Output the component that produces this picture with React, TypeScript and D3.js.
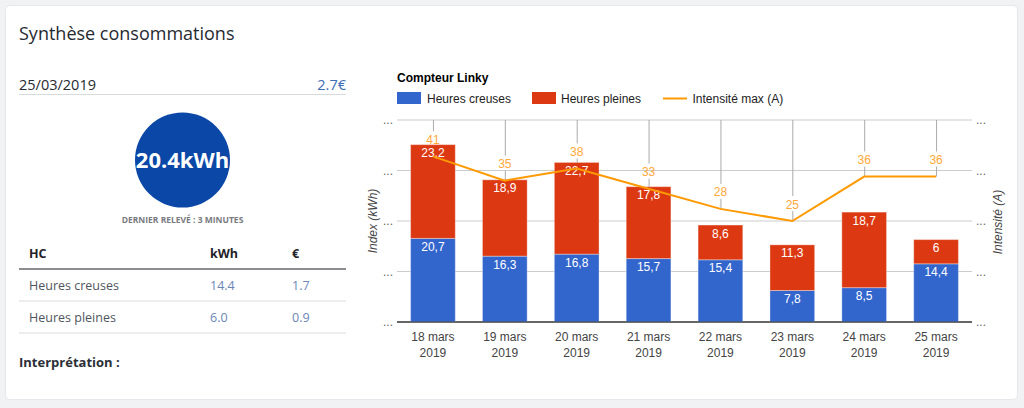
import React from "react";
import * as d3 from "d3";

const dayLabels = ["18 mars", "19 mars", "20 mars", "21 mars", "22 mars", "23 mars", "24 mars", "25 mars"];
const yearLabels = ["2019", "2019", "2019", "2019", "2019", "2019", "2019", "2019"];
const heuresCreuses = [20.7, 16.3, 16.8, 15.7, 15.4, 7.8, 8.5, 14.4];
const heuresPleines = [23.2, 18.9, 22.7, 17.8, 8.6, 11.3, 18.7, 6];
const intensiteMax = [41, 35, 38, 33, 28, 25, 36, 36];
const yTicks = [0, 12.5, 25, 37.5, 50];

const BLUE = "#3366cc";
const RED = "#dc3912";
const ORANGE = "#ff9900";
const CHART_FONT = "Arial, 'Liberation Sans', sans-serif";
const PANEL_FONT = "'Open Sans', 'Noto Sans', sans-serif";

const fmt = (v: number) => String(v).replace(".", ",");

export default function App() {
  const W = 1024, H = 408;
  const plot = { left: 397, right: 972, top: 120, bottom: 322 };
  const x = d3.scaleBand<string>()
    .domain(dayLabels)
    .range([plot.left, plot.right])
    .paddingInner(0.378)
    .paddingOuter(0.189);
  const yL = d3.scaleLinear().domain([0, 50]).range([plot.bottom, plot.top]);
  const yR = d3.scaleLinear().domain([0, 50]).range([plot.bottom, plot.top]);
  const cx = (i: number) => (x(dayLabels[i]) as number) + x.bandwidth() / 2;

  const line = d3.line<number>()
    .x((_, i) => cx(i))
    .y((d) => yR(d));

  return (
    <svg width={W} height={H} style={{ position: "absolute", left: 0, top: 0 }}>
      <rect x={0} y={0} width={W} height={H} fill="#f1f2f4" />
      <rect x={5.5} y={5.5} width={1012} height={394} rx={4} fill="#ffffff" stroke="#e6e7ea" />

      {/* Left panel */}
      <text x={19} y={40} fontFamily={PANEL_FONT} fontSize={18} fill="#262a31">Synthèse consommations</text>
      <text x={19} y={90} fontFamily={PANEL_FONT} fontSize={14.5} fill="#262a31">25/03/2019</text>
      <text x={346} y={90} textAnchor="end" fontFamily={PANEL_FONT} fontSize={14.5} fill="#3d6db5">2.7€</text>
      <line x1={19} x2={346} y1={94.5} y2={94.5} stroke="#d9dadd" strokeWidth={1} />

      <circle cx={182.5} cy={160} r={47.5} fill="#0a47a6" />
      <text x={182.5} y={168} textAnchor="middle" fontFamily={PANEL_FONT} fontWeight="bold" fontSize={22} fill="#ffffff">20.4kWh</text>
      <text x={182.5} y={223} textAnchor="middle" fontFamily={PANEL_FONT} fontWeight="bold" fontSize={8.5} fill="#777a80">DERNIER RELEVÉ : 3 MINUTES</text>

      <text x={29} y={258} fontFamily={PANEL_FONT} fontWeight="bold" fontSize={12.5} fill="#1f2329">HC</text>
      <text x={210} y={258} fontFamily={PANEL_FONT} fontWeight="bold" fontSize={12.5} fill="#1f2329">kWh</text>
      <text x={292} y={258} fontFamily={PANEL_FONT} fontWeight="bold" fontSize={12.5} fill="#1f2329">€</text>
      <line x1={19} x2={346} y1={269} y2={269} stroke="#8c8d90" strokeWidth={2} />
      <text x={29} y={290} fontFamily={PANEL_FONT} fontSize={12.5} fill="#4f555d">Heures creuses</text>
      <text x={210} y={290} fontFamily={PANEL_FONT} fontSize={12.5} fill="#6a86b6">14.4</text>
      <text x={292} y={290} fontFamily={PANEL_FONT} fontSize={12.5} fill="#6a86b6">1.7</text>
      <line x1={19} x2={346} y1={301} y2={301} stroke="#e7e8ea" strokeWidth={1.5} />
      <text x={29} y={322} fontFamily={PANEL_FONT} fontSize={12.5} fill="#4f555d">Heures pleines</text>
      <text x={210} y={322} fontFamily={PANEL_FONT} fontSize={12.5} fill="#6a86b6">6.0</text>
      <text x={292} y={322} fontFamily={PANEL_FONT} fontSize={12.5} fill="#6a86b6">0.9</text>
      <line x1={19} x2={346} y1={333} y2={333} stroke="#e7e8ea" strokeWidth={1.5} />
      <text x={19} y={367} fontFamily={PANEL_FONT} fontWeight="bold" fontSize={13} fill="#2b2f36">Interprétation :</text>

      {/* Chart title & legend */}
      <g fontFamily={CHART_FONT} fontSize={12}>
        <text x={397} y={82} fontWeight="bold" fill="#000">Compteur Linky</text>
        <rect x={397} y={92} width={24} height={12} fill={BLUE} />
        <text x={427} y={102.5} fill="#222">Heures creuses</text>
        <rect x={532} y={92} width={24} height={12} fill={RED} />
        <text x={561} y={102.5} fill="#222">Heures pleines</text>
        <line x1={663} x2={687} y1={98.5} y2={98.5} stroke={ORANGE} strokeWidth={2} />
        <text x={692.5} y={102.5} fill="#222">Intensité max (A)</text>
      </g>

      {/* Gridlines */}
      {yTicks.map((t, i) => (
        <line key={"g" + i} x1={plot.left} x2={plot.right} y1={yL(t)} y2={yL(t)}
          stroke={t === 0 ? "#333" : "#cccccc"} strokeWidth={1} />
      ))}
      {yTicks.map((t, i) => (
        <text key={"ll" + i} x={393} y={yL(t) + 4} textAnchor="end" fontFamily={CHART_FONT} fontSize={12} fill="#666">...</text>
      ))}
      {yTicks.map((t, i) => (
        <text key={"rl" + i} x={976} y={yR(t) + 4} fontFamily={CHART_FONT} fontSize={12} fill="#666">...</text>
      ))}

      {/* Annotation stems for intensity */}
      {intensiteMax.map((v, i) => {
        const py = yR(v);
        const ly = py - 17;
        return (
          <g key={"s" + i} stroke="#aaaaaa" strokeWidth={1}>
            <line x1={cx(i) + 0.5} x2={cx(i) + 0.5} y1={plot.top} y2={ly - 8} />
            <line x1={cx(i) + 0.5} x2={cx(i) + 0.5} y1={ly + 7} y2={py} />
          </g>
        );
      })}

      {/* Bars */}
      {dayLabels.map((d, i) => {
        const x0 = x(d) as number;
        const bw = x.bandwidth();
        const hcTop = yL(heuresCreuses[i]);
        const hpTop = yL(heuresCreuses[i] + heuresPleines[i]);
        return (
          <g key={"b" + i}>
            <rect x={x0} y={hcTop} width={bw} height={plot.bottom - hcTop} fill={BLUE} stroke="#ffffff" strokeOpacity={0.35} strokeWidth={1} />
            <rect x={x0} y={hpTop} width={bw} height={hcTop - hpTop} fill={RED} stroke="#ffffff" strokeOpacity={0.35} strokeWidth={1} />
            <text x={x0 + bw / 2} y={hcTop + 12.5} textAnchor="middle" fontFamily={CHART_FONT} fontSize={12} fill="#ffffff">{fmt(heuresCreuses[i])}</text>
            <text x={x0 + bw / 2} y={hpTop + 12.5} textAnchor="middle" fontFamily={CHART_FONT} fontSize={12} fill="#ffffff">{fmt(heuresPleines[i])}</text>
          </g>
        );
      })}
      <line x1={plot.left} x2={plot.right} y1={plot.bottom} y2={plot.bottom} stroke="#333" strokeWidth={1} />

      {/* Intensity line */}
      <path d={line(intensiteMax) || ""} fill="none" stroke={ORANGE} strokeWidth={2} />
      {intensiteMax.map((v, i) => (
        <text key={"il" + i} x={cx(i)} y={yR(v) - 12.5} textAnchor="middle" fontFamily={CHART_FONT} fontSize={12} fill="#ffa83a">{v}</text>
      ))}

      {/* X axis labels */}
      {dayLabels.map((d, i) => (
        <g key={"x" + i} fontFamily={CHART_FONT} fontSize={12} fill="#444" textAnchor="middle">
          <text x={cx(i)} y={341}>{d}</text>
          <text x={cx(i)} y={356.5}>{yearLabels[i]}</text>
        </g>
      ))}

      {/* Axis titles */}
      <text transform="translate(377,221) rotate(-90)" textAnchor="middle" fontFamily={CHART_FONT} fontStyle="italic" fontSize={12} fill="#444">Index (kWh)</text>
      <text transform="translate(1002,222) rotate(-90)" textAnchor="middle" fontFamily={CHART_FONT} fontStyle="italic" fontSize={12} fill="#444">Intensité (A)</text>
    </svg>
  );
}
